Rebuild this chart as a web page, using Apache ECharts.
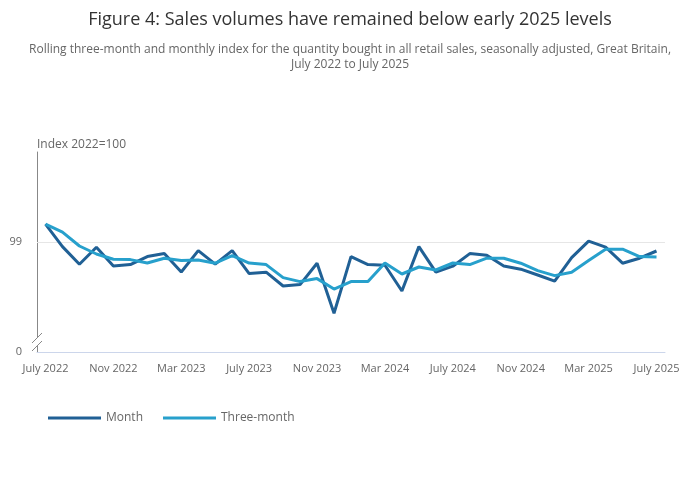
<!DOCTYPE html>
<html>
<head>
<meta charset="utf-8">
<script src="https://cdn.jsdelivr.net/npm/echarts@6/dist/echarts.min.js"></script>
<style>
  html, body { margin: 0; padding: 0; background: #fff; }
  #main { width: 700px; height: 502px; }
</style>
</head>
<body>
<div id="main"></div>
<script>
// months, July 2022 to July 2025
var months = [
  'July 2022', 'Aug 2022', 'Sep 2022', 'Oct 2022', 'Nov 2022', 'Dec 2022',
  'Jan 2023', 'Feb 2023', 'Mar 2023', 'Apr 2023', 'May 2023', 'June 2023',
  'July 2023', 'Aug 2023', 'Sep 2023', 'Oct 2023', 'Nov 2023', 'Dec 2023',
  'Jan 2024', 'Feb 2024', 'Mar 2024', 'Apr 2024', 'May 2024', 'June 2024',
  'July 2024', 'Aug 2024', 'Sep 2024', 'Oct 2024', 'Nov 2024', 'Dec 2024',
  'Jan 2025', 'Feb 2025', 'Mar 2025', 'Apr 2025', 'May 2025', 'June 2025',
  'July 2025'
];

// monthly index (2022=100)
var monthValues = [
  99.89, 98.77, 97.89, 98.74, 97.80, 97.87,
  98.27, 98.42, 97.50, 98.57, 97.89, 98.57,
  97.42, 97.49, 96.80, 96.87, 97.94, 95.44,
  98.27, 97.87, 97.84, 96.55, 98.77, 97.49,
  97.79, 98.42, 98.34, 97.80, 97.64, 97.35,
  97.04, 98.22, 99.04, 98.74, 97.94, 98.19,
  98.55
];

// rolling three-month index
var threeMonthValues = [
  99.89, 99.49, 98.80, 98.40, 98.14, 98.12,
  97.95, 98.19, 98.07, 98.10, 97.94, 98.32,
  97.95, 97.87, 97.22, 97.02, 97.17, 96.65,
  97.02, 97.02, 97.95, 97.40, 97.75, 97.60,
  97.95, 97.87, 98.19, 98.19, 97.94, 97.57,
  97.32, 97.49, 98.07, 98.64, 98.64, 98.27,
  98.25
];

// y axis shown as a broken axis: bottom tick reads 0, one gridline at 99
var yMin = 93.5;
var yMax = 103.5;
var yLabels = { '93.5': '0', '99': '99' };

var font = '"Open Sans", "Noto Sans", sans-serif';

var myChart = echarts.init(document.getElementById('main'));

var option = {
  animation: false,
  textStyle: { fontFamily: font },
  title: [
    {
      text: 'Figure 4: Sales volumes have remained below early 2025 levels',
      left: 'center',
      top: 6,
      textStyle: { fontSize: 18, fontWeight: 'normal', color: '#333', fontFamily: font }
    },
    {
      text: 'Rolling three-month and monthly index for the quantity bought in all retail sales, seasonally adjusted, Great Britain,\nJuly 2022 to July 2025',
      left: 'center',
      top: 37,
      textStyle: { fontSize: 12, fontWeight: 'normal', color: '#666', lineHeight: 15, align: 'center', fontFamily: font }
    }
  ],
  legend: {
    left: 48,
    top: 412,
    padding: 0,
    icon: 'rect',
    itemWidth: 53,
    itemHeight: 3,
    itemGap: 20,
    textStyle: { fontSize: 12, color: '#666', fontFamily: font },
    data: ['Month', 'Three-month']
  },
  grid: { left: 37, right: 35, top: 152, bottom: 150, outerBoundsMode: 'none' },
  xAxis: {
    type: 'category',
    data: months,
    boundaryGap: true,
    axisLine: { lineStyle: { color: '#ccd6eb', width: 1 } },
    axisTick: { alignWithLabel: true, interval: 3, length: 9, lineStyle: { color: '#ccd6eb' } },
    axisLabel: { interval: 3, color: '#666', fontSize: 11, margin: 11, fontFamily: font }
  },
  yAxis: {
    type: 'value',
    min: yMin,
    max: yMax,
    interval: 0.5,
    name: 'Index 2022=100',
    nameLocation: 'end',
    nameGap: 1,
    nameTextStyle: { align: 'left', color: '#666', fontSize: 12, fontFamily: font },
    axisLine: { show: true, lineStyle: { color: '#888', width: 1 } },
    axisTick: { show: false },
    splitLine: { show: false },
    axisLabel: {
      color: '#666',
      fontSize: 11,
      margin: 15,
      fontFamily: font,
      formatter: function (v) {
        var k = String(Math.round(v * 10) / 10);
        return yLabels[k] || '';
      }
    }
  },
  graphic: [
    // axis break marker
    { type: 'rect', shape: { x: 33, y: 337, width: 8, height: 9 }, style: { fill: '#fff' }, z: 100 },
    { type: 'line', shape: { x1: 32, y1: 343, x2: 42, y2: 333 }, style: { stroke: '#888', lineWidth: 1 }, z: 101 },
    { type: 'line', shape: { x1: 32, y1: 351, x2: 42, y2: 341 }, style: { stroke: '#888', lineWidth: 1 }, z: 101 }
  ],
  series: [
    {
      name: 'Month',
      type: 'line',
      data: monthValues,
      symbol: 'none',
      lineStyle: { color: '#206095', width: 3 },
      itemStyle: { color: '#206095' },
      z: 3,
      markLine: {
        silent: true,
        symbol: 'none',
        label: { show: false },
        lineStyle: { color: '#e6e6e6', width: 1, type: 'solid' },
        data: [{ yAxis: 99 }],
        z: 1
      }
    },
    {
      name: 'Three-month',
      type: 'line',
      data: threeMonthValues,
      symbol: 'none',
      lineStyle: { color: '#27a0cc', width: 3 },
      itemStyle: { color: '#27a0cc' },
      z: 4
    }
  ]
};

myChart.setOption(option);
</script>
</body>
</html>
